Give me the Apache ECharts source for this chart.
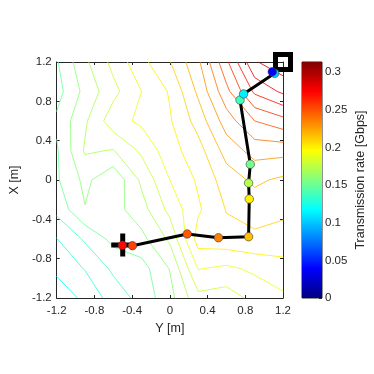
<!DOCTYPE html>
<html>
<head>
<meta charset="utf-8">
<script src="https://cdn.jsdelivr.net/npm/echarts@6/dist/echarts.min.js"></script>
<style>
html, body { margin: 0; padding: 0; background: #fff; }
#main { width: 374px; height: 374px; }
</style>
</head>
<body>
<div id="main"></div>
<script>
// measurement grid: columns along Y [m], rows along X [m] (top row is X = 1.2)
const gridY = [-1.2, -0.9, -0.6, -0.3, 0, 0.3, 0.6, 0.9, 1.2]
const gridX = [1.2, 0.9, 0.6, 0.3, 0, -0.3, -0.6, -0.9, -1.2]
const rate = [
    [0.149, 0.168, 0.183, 0.197, 0.2095, 0.228, 0.258, 0.289, 0.297],
    [0.146, 0.163, 0.177, 0.190, 0.201, 0.222, 0.247, 0.272, 0.282],
    [0.152, 0.1685, 0.186, 0.192, 0.199, 0.214, 0.235, 0.250, 0.2565],
    [0.1488, 0.1712, 0.1695, 0.182, 0.196, 0.206, 0.224, 0.234, 0.2336],
    [0.1487, 0.1625, 0.152, 0.172, 0.190, 0.2015, 0.215, 0.222, 0.218],
    [0.143, 0.1595, 0.156, 0.166, 0.183, 0.1985, 0.2105, 0.214, 0.2125],
    [0.1297, 0.1415, 0.153, 0.157, 0.172, 0.2045, 0.2065, 0.208, 0.2055],
    [0.1233, 0.1305, 0.142, 0.146, 0.1605, 0.1905, 0.188, 0.192, 0.1965],
    [0.111, 0.1233, 0.134, 0.1437, 0.1565, 0.177, 0.175, 0.183, 0.188],
]
const levels = [0.11, 0.12, 0.13, 0.14, 0.15, 0.16, 0.17, 0.18, 0.19, 0.20,
    0.21, 0.22, 0.23, 0.24, 0.25, 0.26, 0.27, 0.28, 0.29]
const rateMax = 0.3133
const colorTicks = [0, 0.05, 0.1, 0.15, 0.2, 0.25, 0.3]

// robot path: Y, X and the rate measured at each stop
const pathY = [-0.504, -0.397, 0.184, 0.515, 0.835, 0.842, 0.835, 0.853, 0.744, 0.782, 1.112, 1.086]
const pathX = [-0.664, -0.668, -0.549, -0.587, -0.577, -0.193, -0.031, 0.160, 0.813, 0.875, 1.085, 1.100]
const pathRate = [0.272, 0.255, 0.247, 0.235, 0.215, 0.200, 0.172, 0.153, 0.138, 0.113, 0.102, 0.038]
const startPos = [-0.5, -0.66]
const goalPos = [1.2, 1.2]

const jetStops = ['#000080', '#0000ff', '#0080ff', '#00ffff', '#80ff80', '#ffff00', '#ff8000', '#ff0000', '#800000']
const hexRgb = (h) => [1, 3, 5].map((k) => parseInt(h.substr(k, 2), 16))
function jet(v) {
    const t = Math.min(Math.max(v / rateMax, 0), 1) * 8
    const i = Math.min(Math.floor(t), 7)
    const f = t - i
    const a = hexRgb(jetStops[i])
    const b = hexRgb(jetStops[i + 1])
    return 'rgb(' + a.map((c, k) => Math.round(c + (b[k] - c) * f)).join(',') + ')'
}

// marching squares on the grid, segments keyed by the grid edge they cross
function contour(level) {
    const pts = {}
    const segs = []
    const cross = (r1, c1, r2, c2, key) => {
        const a = rate[r1][c1]
        const b = rate[r2][c2]
        const t = (level - a) / (b - a)
        pts[key] = [gridY[c1] + (gridY[c2] - gridY[c1]) * t, gridX[r1] + (gridX[r2] - gridX[r1]) * t]
        return key
    }
    for (let r = 0; r < gridX.length - 1; r++) {
        for (let c = 0; c < gridY.length - 1; c++) {
            const v = [rate[r][c], rate[r][c + 1], rate[r + 1][c + 1], rate[r + 1][c]]
            const up = v.map((z) => z >= level)
            const e = []
            if (up[0] !== up[1]) e[0] = cross(r, c, r, c + 1, 'h' + r + '_' + c)
            if (up[1] !== up[2]) e[1] = cross(r, c + 1, r + 1, c + 1, 'v' + r + '_' + (c + 1))
            if (up[2] !== up[3]) e[2] = cross(r + 1, c, r + 1, c + 1, 'h' + (r + 1) + '_' + c)
            if (up[3] !== up[0]) e[3] = cross(r, c, r + 1, c, 'v' + r + '_' + c)
            const found = e.filter((k) => k !== undefined)
            if (found.length === 2) {
                segs.push(found)
            } else if (found.length === 4) {
                const centre = (v[0] + v[1] + v[2] + v[3]) / 4 >= level
                if (centre === up[0]) {
                    segs.push([e[0], e[1]], [e[2], e[3]])
                } else {
                    segs.push([e[3], e[0]], [e[1], e[2]])
                }
            }
        }
    }
    const adj = {}
    segs.forEach((s, i) => s.forEach((k) => (adj[k] = adj[k] || []).push(i)))
    const used = segs.map(() => false)
    const lines = []
    const keys = Object.keys(adj)
    keys.filter((k) => adj[k].length === 1).concat(keys).forEach((k0) => {
        let k = k0
        let i = adj[k].find((j) => !used[j])
        if (i === undefined) return
        const chain = [pts[k]]
        while (i !== undefined) {
            used[i] = true
            k = segs[i][0] === k ? segs[i][1] : segs[i][0]
            chain.push(pts[k])
            i = adj[k].find((j) => !used[j])
        }
        lines.push({ coords: chain })
    })
    return lines
}

const axisColor = '#262626'
const font = 'Liberation Sans, Arial, sans-serif'

const series = levels.map((lv) => ({
    type: 'lines',
    coordinateSystem: 'cartesian2d',
    xAxisIndex: 0,
    yAxisIndex: 0,
    polyline: true,
    silent: true,
    z: 1,
    lineStyle: { color: jet(lv), width: 1, opacity: 0.8, join: 'round', cap: 'round' },
    data: contour(lv),
}))

series.push(
    {
        type: 'scatter',
        xAxisIndex: 0,
        yAxisIndex: 0,
        z: 2,
        clip: false,
        silent: true,
        symbol: 'path://M9,0H14V9H23V14H14V23H9V14H0V9H9Z',
        symbolSize: 23,
        itemStyle: { color: '#000', opacity: 1 },
        data: [startPos],
    },
    {
        type: 'scatter',
        xAxisIndex: 0,
        yAxisIndex: 0,
        z: 2,
        clip: false,
        silent: true,
        symbol: 'rect',
        symbolSize: 15,
        itemStyle: { color: 'rgba(0,0,0,0)', borderColor: '#000', borderWidth: 5, opacity: 1 },
        data: [goalPos],
    },
    {
        type: 'line',
        xAxisIndex: 0,
        yAxisIndex: 0,
        z: 3,
        silent: true,
        symbol: 'none',
        lineStyle: { color: '#000', width: 3 },
        data: pathY.map((y, i) => [y, pathX[i]]),
    },
    {
        type: 'scatter',
        xAxisIndex: 0,
        yAxisIndex: 0,
        z: 4,
        clip: false,
        silent: true,
        symbolSize: 8.5,
        data: pathY.map((y, i) => ({
            value: [y, pathX[i]],
            itemStyle: { color: jet(pathRate[i]), borderColor: '#3a3a3a', borderWidth: 0.6, opacity: 1 },
        })),
    },
    {
        type: 'bar',
        xAxisIndex: 2,
        yAxisIndex: 2,
        silent: true,
        barWidth: '100%',
        data: [rateMax],
        itemStyle: {
            color: {
                type: 'linear', x: 0, y: 1, x2: 0, y2: 0,
                colorStops: jetStops.map((c, i) => ({ offset: i / 8, color: c })),
            },
        },
    }
)

const tickFont = { color: axisColor, fontSize: 11.5, fontFamily: font }
const nameFont = { color: axisColor, fontSize: 12.5, fontFamily: font }

const mainAxis = (extra) => Object.assign({
    type: 'value',
    gridIndex: 0,
    min: -1.2,
    max: 1.2,
    interval: 0.4,
    splitLine: { show: false },
    axisLine: { show: true, onZero: false, lineStyle: { color: axisColor, width: 1 } },
    axisTick: { show: true, inside: true, length: 3, lineStyle: { color: axisColor } },
    nameTextStyle: nameFont,
}, extra)

const chart = echarts.init(document.getElementById('main'))
chart.setOption({
    animation: false,
    backgroundColor: '#fff',
    grid: [
        { left: 46, top: 62, width: 237, height: 236 },
        { left: 302, top: 62, width: 20, height: 236, show: true, borderColor: axisColor, borderWidth: 1, backgroundColor: 'transparent' },
    ],
    xAxis: [
        mainAxis({ position: 'bottom', name: 'Y [m]', nameLocation: 'middle', nameGap: 23.5, axisLabel: Object.assign({ margin: 7 }, tickFont) }),
        mainAxis({ position: 'top', axisLabel: { show: false } }),
        { type: 'category', gridIndex: 1, data: ['c'], show: false },
    ],
    yAxis: [
        mainAxis({ position: 'left', name: 'X [m]', nameLocation: 'middle', nameRotate: 90, nameGap: 30, axisLabel: Object.assign({ margin: 5 }, tickFont) }),
        mainAxis({ position: 'right', axisLabel: { show: false } }),
        {
            type: 'value',
            gridIndex: 1,
            position: 'right',
            min: 0,
            max: rateMax,
            interval: 0.05,
            splitLine: { show: false },
            axisLine: { show: false },
            axisTick: { show: true, inside: true, length: 3, lineStyle: { color: axisColor } },
            axisLabel: Object.assign({
                margin: 3,
                formatter: (v) => (colorTicks.some((t) => Math.abs(t - v) < 1e-6) ? String(v) : ''),
            }, tickFont),
            name: 'Transmission rate [Gbps]',
            nameLocation: 'middle',
            nameRotate: 90,
            nameGap: 32,
            nameTextStyle: nameFont,
        },
    ],
    series: series,
})
</script>
</body>
</html>
